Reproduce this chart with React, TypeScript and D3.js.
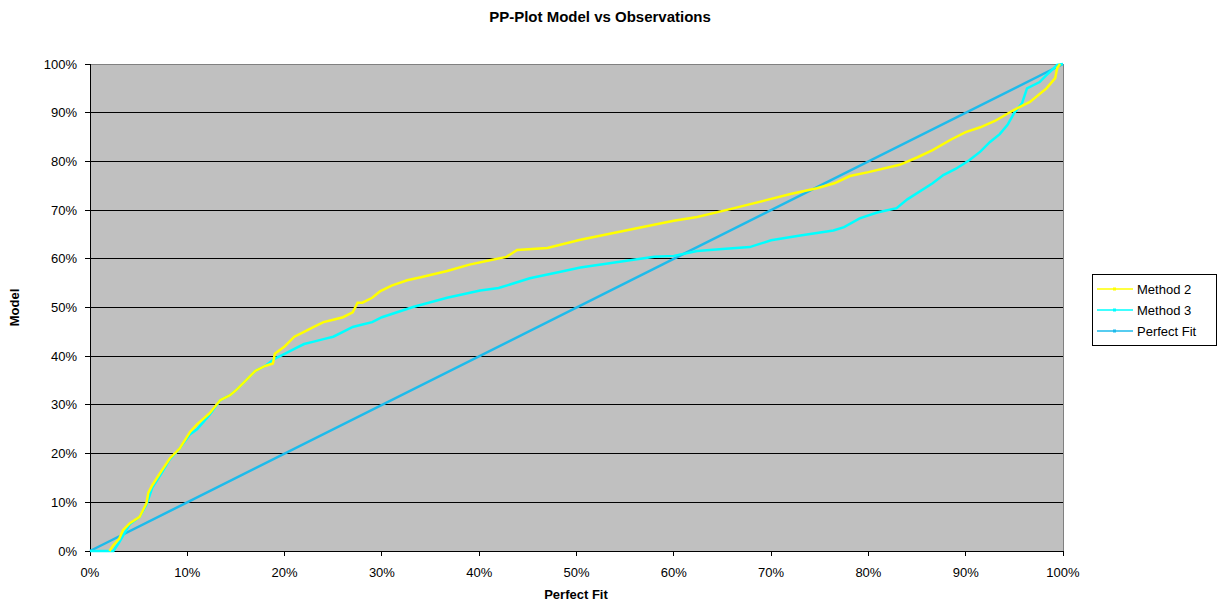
import React from "react";
import * as d3 from "d3";

const xTicks = [0, 10, 20, 30, 40, 50, 60, 70, 80, 90, 100];
const yTicks = [0, 10, 20, 30, 40, 50, 60, 70, 80, 90, 100];

// Method 2 (yellow): [perfect fit %, model %]
const method2: [number, number][] = [
  [2, 0], [2.4, 1.2], [3, 2.5], [3.4, 4.3], [4.1, 5.7], [5.1, 7], [5.8, 9.8], [6, 12], [6.4, 13.5],
  [7.2, 16], [8.2, 19], [9.2, 21], [10.3, 24.5], [11, 26], [12.3, 28.3], [13.4, 31], [14.4, 32],
  [15, 33], [16, 35], [17, 37], [18, 38], [18.8, 38.5], [19, 40.5], [20, 42], [21, 44], [22, 45],
  [23, 46], [24, 47], [25, 47.5], [26, 48], [27, 49], [27.5, 51], [28, 51], [29, 52], [29.8, 53.3],
  [31, 54.5], [32.6, 55.6], [34, 56.2], [36.7, 57.5], [39, 58.8], [41.1, 59.7], [42.8, 60.4],
  [43.9, 61.8], [47, 62.2], [50.4, 63.9], [53.8, 65.3], [57.2, 66.7], [60, 67.8], [62.4, 68.6],
  [66, 70.3], [69.6, 72.1], [72, 73.3], [74.7, 74.5], [76.5, 75.5], [78.1, 77], [80, 77.8],
  [83.2, 79.3], [85, 80.8], [86.6, 82.3], [88.5, 84.5], [90, 86], [91.5, 87], [93, 88.3],
  [94.9, 90.5], [96.6, 92.2], [98.3, 95], [99.2, 97.1], [99.4, 99.2], [99.7, 100],
];

// Method 3 (cyan)
const method3: [number, number][] = [
  [0, 0], [1, 0], [2.4, 0], [3, 1.8], [3.5, 3.5], [4.1, 5.5], [5.1, 7], [5.8, 9.5], [6.4, 13],
  [7.2, 15.5], [8.2, 18.8], [9.2, 21], [10.3, 24], [11, 25], [12.3, 28], [13.4, 31], [14.4, 32],
  [15, 33], [16, 35], [17, 37], [18, 38], [19, 39.5], [20, 40.5], [21, 41.5], [22, 42.5], [23, 43],
  [24, 43.5], [25, 44], [26, 45], [27, 46], [28, 46.5], [29, 47], [30, 48], [33.2, 50.1],
  [36.7, 52], [40.1, 53.5], [42, 54], [45.2, 56], [48, 57.2], [50.4, 58.2], [55.5, 59.7],
  [58, 60.4], [60, 60.6], [62.4, 61.6], [65, 62], [67.8, 62.4], [70, 63.8], [73, 64.8],
  [76.4, 65.8], [77.5, 66.5], [79.1, 68.3], [80.9, 69.5], [82.9, 70.4], [84, 72.2], [86.6, 75.5],
  [87.7, 77.2], [89, 78.5], [90.4, 80.3], [91.5, 82], [92.5, 84], [93.5, 85.6], [94.3, 87.5],
  [95, 90], [95.8, 92], [96.3, 95], [97.6, 96.3], [98.3, 97.7], [99.4, 99.8], [100, 100],
];

// Perfect fit (diagonal)
const perfectFit: [number, number][] = [
  [0, 0], [100, 100],
];

const W = 1220;
const H = 602;
const M = { left: 90, right: 1063, top: 64, bottom: 551 };
const FONT = "'Liberation Sans', Arial, sans-serif";

export default function App() {
  const x = d3.scaleLinear().domain([0, 100]).range([M.left, M.right]);
  const y = d3.scaleLinear().domain([0, 100]).range([M.bottom, M.top]);
  const line = d3
    .line<[number, number]>()
    .x((d) => x(d[0]))
    .y((d) => y(d[1]));

  const legendItems = [
    { name: "Method 2", color: "#FFFF00" },
    { name: "Method 3", color: "#00FFFF" },
    { name: "Perfect Fit", color: "#1EBBEB" },
  ];

  return (
    <svg
      width={W}
      height={H}
      style={{ position: "absolute", left: 0, top: 0, display: "block", background: "#fff" }}
      fontFamily={FONT}
    >
      <rect x={M.left} y={M.top} width={M.right - M.left} height={M.bottom - M.top} fill="#C0C0C0" />
      {yTicks.map((t) => (
        <line
          key={"g" + t}
          x1={M.left}
          x2={M.right}
          y1={y(t)}
          y2={y(t)}
          stroke={t === 100 ? "#808080" : "#000"}
          strokeWidth={1}
          shapeRendering="crispEdges"
        />
      ))}
      <line x1={M.right} x2={M.right} y1={M.top} y2={M.bottom} stroke="#808080" shapeRendering="crispEdges" />
      {/* axes */}
      <line x1={M.left} x2={M.left} y1={M.top} y2={M.bottom} stroke="#000" shapeRendering="crispEdges" />
      <line x1={M.left} x2={M.right} y1={M.bottom} y2={M.bottom} stroke="#000" shapeRendering="crispEdges" />
      {yTicks.map((t) => (
        <g key={"yt" + t}>
          <line x1={M.left - 5} x2={M.left} y1={y(t)} y2={y(t)} stroke="#000" shapeRendering="crispEdges" />
          <text x={M.left - 13} y={y(t)} dy="0.35em" textAnchor="end" fontSize={13} fill="#000">
            {t}%
          </text>
        </g>
      ))}
      {xTicks.map((t) => (
        <g key={"xt" + t}>
          <line x1={x(t)} x2={x(t)} y1={M.bottom} y2={M.bottom + 5} stroke="#000" shapeRendering="crispEdges" />
          <text x={x(t)} y={M.bottom + 26} textAnchor="middle" fontSize={13} fill="#000">
            {t}%
          </text>
        </g>
      ))}
      <path d={line(perfectFit) || ""} fill="none" stroke="#1EBBEB" strokeWidth={2.5} />
      <path d={line(method3) || ""} fill="none" stroke="#00FFFF" strokeWidth={2.5} />
      <path d={line(method2) || ""} fill="none" stroke="#FFFF00" strokeWidth={2.5} />

      <text x={600} y={22} textAnchor="middle" fontSize={15} fontWeight="bold">
        PP-Plot Model vs Observations
      </text>
      <text x={576} y={599} textAnchor="middle" fontSize={13} fontWeight="bold">
        Perfect Fit
      </text>
      <text
        transform={`translate(19, ${(M.top + M.bottom) / 2}) rotate(-90)`}
        textAnchor="middle"
        fontSize={13}
        fontWeight="bold"
      >
        Model
      </text>

      <rect x={1092} y={274} width={124} height={71} fill="#fff" stroke="#000" shapeRendering="crispEdges" />
      {legendItems.map((it, i) => {
        const ly = 289 + i * 21;
        return (
          <g key={it.name}>
            <line x1={1097} x2={1133} y1={ly} y2={ly} stroke={it.color} strokeWidth={1.5} />
            <rect x={1113} y={ly - 1.5} width={3} height={3} fill={it.color} />
            <text x={1137} y={ly} dy="0.35em" fontSize={13} fill="#000">
              {it.name}
            </text>
          </g>
        );
      })}
    </svg>
  );
}
